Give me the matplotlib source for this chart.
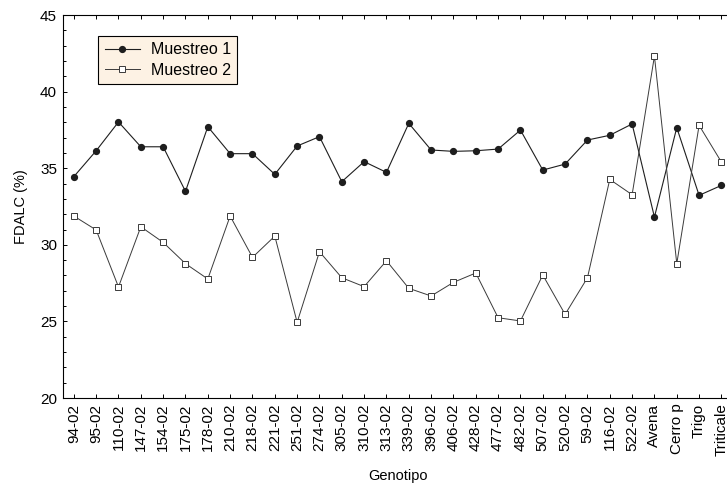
import matplotlib
matplotlib.use("Agg")
import matplotlib.pyplot as plt
from matplotlib.ticker import MultipleLocator

plt.rcParams['font.family'] = ['Liberation Sans', 'DejaVu Sans']

# genotipos (eje x)
genotipos = ['94-02', '95-02', '110-02', '147-02', '154-02', '175-02', '178-02',
             '210-02', '218-02', '221-02', '251-02', '274-02', '305-02', '310-02',
             '313-02', '339-02', '396-02', '406-02', '428-02', '477-02', '482-02',
             '507-02', '520-02', '59-02', '116-02', '522-02', 'Avena', 'Cerro p',
             'Trigo', 'Triticale']

# FDALC (%) por muestreo
muestreo1 = [34.45, 36.14, 38.02, 36.4, 36.4, 33.49, 37.71, 35.95, 35.95, 34.6,
             36.45, 37.06, 34.12, 35.43, 34.73, 37.93, 36.19, 36.1, 36.14, 36.25,
             37.49, 34.88, 35.27, 36.84, 37.15, 37.89, 31.81, 37.65, 33.23, 33.88]
muestreo2 = [31.88, 30.97, 27.25, 31.18, 30.16, 28.77, 27.77, 31.88, 29.18, 30.57,
             24.94, 29.55, 27.85, 27.27, 28.96, 27.16, 26.66, 27.55, 28.16, 25.24,
             25.03, 28.03, 25.46, 27.85, 34.27, 33.27, 42.32, 28.77, 37.8, 35.4]

x = list(range(len(genotipos)))

fig = plt.figure(figsize=(7.27, 4.88), dpi=100)
ax = fig.add_axes([0.0862, 0.1844, 0.9215, 0.7848])

ax.plot(x, muestreo1, color='#1e1e1e', lw=0.8, marker='o', ms=4.2,
        mfc='#1e1e1e', mec='#1e1e1e', label='Muestreo 1')
ax.plot(x, muestreo2, color='#3a3a3a', lw=0.7, marker='s', ms=4.0,
        mfc='white', mec='#3a3a3a', mew=0.7, label='Muestreo 2')

ax.set_xlim(-0.5, len(genotipos) - 0.5)
ax.set_ylim(20, 45)
ax.set_xticks(x)
ax.set_xticklabels(genotipos, rotation=90, fontsize=11)
ax.yaxis.set_major_locator(MultipleLocator(5))
ax.yaxis.set_minor_locator(MultipleLocator(1))
ax.tick_params(axis='y', labelsize=11)
ax.tick_params(which='both', direction='in', top=True, right=True,
               length=3, width=0.7, pad=4)
ax.tick_params(which='minor', length=2)
for s in ax.spines.values():
    s.set_linewidth(0.8)

ax.set_xlabel('Genotipo', fontsize=10.5, labelpad=9)
ax.set_ylabel('FDALC (%)', fontsize=10.5, labelpad=9)

leg = ax.legend(loc='upper left', bbox_to_anchor=(0.053, 0.946), borderaxespad=0,
                fontsize=11.5, fancybox=False, framealpha=1, handlelength=2.2,
                handletextpad=0.7, labelspacing=0.35, borderpad=0.4)
leg.get_frame().set_facecolor('#fdf2e4')
leg.get_frame().set_edgecolor('black')
leg.get_frame().set_linewidth(0.8)

fig.savefig('out.png', dpi=100)
